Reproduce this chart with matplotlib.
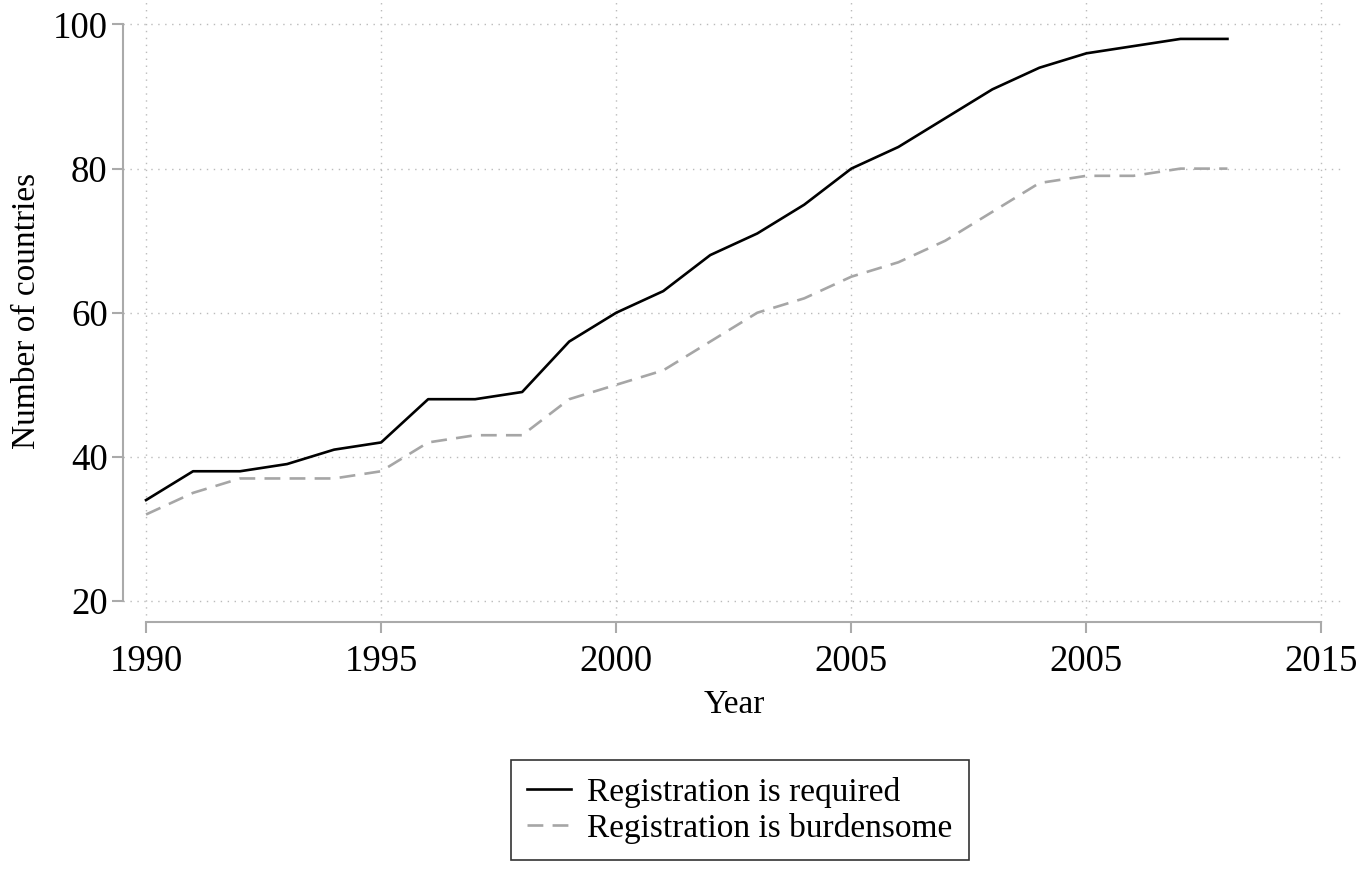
import matplotlib
matplotlib.use('Agg')
import matplotlib.pyplot as plt

plt.rcParams['font.family'] = ['Liberation Serif', 'DejaVu Serif']

years = list(range(1990, 2014))
required = [34, 38, 38, 39, 41, 42, 48, 48, 49, 56, 60, 63, 68, 71, 75, 80,
            83, 87, 91, 94, 96, 97, 98, 98]
burdensome = [32, 35, 37, 37, 37, 38, 42, 43, 43, 48, 50, 52, 56, 60, 62, 65,
              67, 70, 74, 78, 79, 79, 80, 80]
xticks = [1990, 1995, 2000, 2005, 2010, 2015]
xticklabels = ['1990', '1995', '2000', '2005', '2005', '2015']
yticks = [20, 40, 60, 80, 100]

fig = plt.figure(figsize=(13.56, 8.69), dpi=100)
ax = fig.add_axes([123/1356, 1 - 622/869, (1345-123)/1356, 622/869])

ax.plot(years, required, color='black', lw=1.9, label='Registration is required')
ax.plot(years, burdensome, color='#a6a6a6', lw=1.9, dashes=(6, 3.5),
        label='Registration is burdensome')

ax.set_xlim(1989.51, 2015.5)
ax.set_ylim(17.08, 103.4)
ax.set_xticks(xticks)
ax.set_xticklabels(xticklabels)
ax.set_yticks(yticks)
ax.grid(True, color='#bbbbbb', linestyle=(0, (1, 4)), lw=1)

for s in ['top', 'right']:
    ax.spines[s].set_visible(False)
for s in ['left', 'bottom']:
    ax.spines[s].set_color('#aaaaaa')
    ax.spines[s].set_linewidth(1.5)
ax.spines['left'].set_bounds(20, 100)
ax.spines['bottom'].set_bounds(1990, 2015)
ax.tick_params(colors='#aaaaaa', labelcolor='black', length=8, width=1.5,
               labelsize=26.5)
ax.tick_params(axis='x', pad=8)
ax.tick_params(axis='y', pad=3)

ax.set_xlabel('Year', fontsize=24, labelpad=8)
ax.set_ylabel('Number of countries', fontsize=24, labelpad=8)

leg = fig.legend(loc='center', bbox_to_anchor=(740/1356, 1 - 810/869),
                 fontsize=24, frameon=True, fancybox=False, handlelength=1.3,
                 borderpad=0.5, labelspacing=0.15, handletextpad=0.5)
leg.get_frame().set_edgecolor('black')
leg.get_frame().set_linewidth(1.2)

fig.savefig('out.png', dpi=100)
